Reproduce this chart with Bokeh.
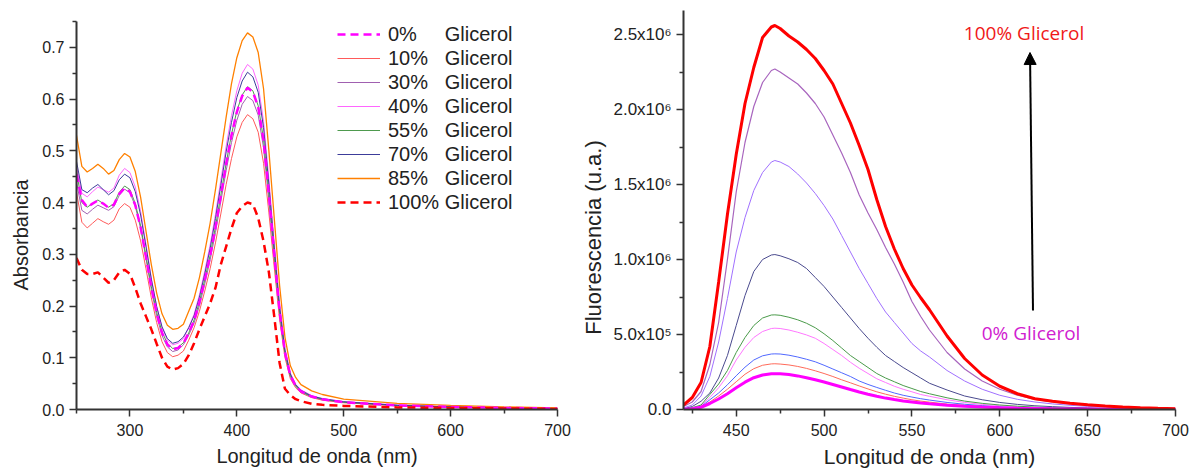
from bokeh.plotting import figure
from bokeh.layouts import row
from bokeh.models import Range1d, FixedTicker, Legend, LegendItem, Arrow, NormalHead, Label
from bokeh.embed import file_html
from bokeh.resources import INLINE

# ---------------- Absorbance data ----------------
WL_ABS = [250, 255, 260, 265, 270, 275, 280, 285, 290, 295, 300, 305, 310, 315, 320, 325, 330, 335, 340,
          345, 350, 355, 360, 365, 370, 375, 380, 385, 390, 395, 400, 405, 410, 415, 420, 425, 430, 435,
          440, 445, 450, 455, 460, 470, 480, 500, 550, 600, 650, 700]

ABS_0 = [0.455, 0.405, 0.391, 0.398, 0.404, 0.398, 0.390, 0.396, 0.417, 0.428, 0.421, 0.395, 0.352, 0.295, 0.236, 0.186, 0.148, 0.126, 0.116,
         0.119, 0.128, 0.148, 0.172, 0.207, 0.250, 0.297, 0.352, 0.413, 0.475, 0.530, 0.575, 0.606, 0.622, 0.614, 0.585, 0.520, 0.415, 0.300,
         0.190, 0.110, 0.066, 0.046, 0.035, 0.025, 0.020, 0.014, 0.008, 0.005, 0.003, 0.002]
ABS_10 = [0.420, 0.362, 0.351, 0.360, 0.369, 0.363, 0.358, 0.366, 0.388, 0.398, 0.391, 0.366, 0.326, 0.272, 0.216, 0.168, 0.131, 0.110, 0.102,
          0.105, 0.113, 0.134, 0.158, 0.190, 0.229, 0.272, 0.322, 0.378, 0.435, 0.485, 0.527, 0.555, 0.570, 0.562, 0.536, 0.476, 0.380, 0.275,
          0.174, 0.101, 0.060, 0.042, 0.032, 0.023, 0.018, 0.013, 0.007, 0.005, 0.003, 0.002]
ABS_30 = [0.440, 0.385, 0.378, 0.387, 0.395, 0.390, 0.385, 0.392, 0.414, 0.426, 0.419, 0.393, 0.350, 0.292, 0.232, 0.181, 0.143, 0.121, 0.112,
          0.115, 0.125, 0.144, 0.167, 0.201, 0.243, 0.289, 0.342, 0.402, 0.462, 0.516, 0.559, 0.590, 0.605, 0.597, 0.569, 0.506, 0.404, 0.292,
          0.185, 0.107, 0.064, 0.045, 0.034, 0.024, 0.019, 0.014, 0.008, 0.005, 0.003, 0.002]
ABS_40 = [0.470, 0.418, 0.411, 0.421, 0.430, 0.425, 0.420, 0.428, 0.453, 0.466, 0.458, 0.430, 0.383, 0.320, 0.254, 0.199, 0.158, 0.134, 0.125,
          0.128, 0.137, 0.159, 0.184, 0.222, 0.268, 0.318, 0.377, 0.443, 0.509, 0.568, 0.616, 0.650, 0.667, 0.658, 0.627, 0.557, 0.445, 0.322,
          0.204, 0.118, 0.071, 0.049, 0.038, 0.027, 0.021, 0.015, 0.009, 0.005, 0.003, 0.002]
ABS_55 = [0.460, 0.400, 0.391, 0.398, 0.405, 0.398, 0.391, 0.398, 0.420, 0.432, 0.425, 0.398, 0.355, 0.297, 0.238, 0.188, 0.150, 0.128, 0.118,
          0.120, 0.129, 0.148, 0.173, 0.208, 0.251, 0.298, 0.353, 0.414, 0.476, 0.532, 0.577, 0.608, 0.624, 0.616, 0.587, 0.522, 0.416, 0.301,
          0.191, 0.110, 0.066, 0.046, 0.035, 0.025, 0.020, 0.014, 0.008, 0.005, 0.003, 0.002]
ABS_70 = [0.480, 0.425, 0.419, 0.428, 0.435, 0.425, 0.415, 0.423, 0.444, 0.455, 0.448, 0.421, 0.376, 0.315, 0.252, 0.199, 0.160, 0.137, 0.128,
          0.131, 0.140, 0.158, 0.181, 0.217, 0.262, 0.311, 0.369, 0.433, 0.498, 0.555, 0.603, 0.635, 0.652, 0.643, 0.613, 0.545, 0.435, 0.314,
          0.199, 0.115, 0.069, 0.048, 0.037, 0.026, 0.021, 0.015, 0.008, 0.005, 0.003, 0.002]
ABS_85 = [0.530, 0.470, 0.459, 0.466, 0.474, 0.466, 0.455, 0.462, 0.483, 0.495, 0.488, 0.460, 0.410, 0.345, 0.280, 0.225, 0.185, 0.163, 0.155,
          0.157, 0.165, 0.190, 0.215, 0.255, 0.305, 0.360, 0.425, 0.495, 0.565, 0.630, 0.680, 0.713, 0.728, 0.720, 0.690, 0.620, 0.500, 0.370,
          0.240, 0.140, 0.085, 0.062, 0.048, 0.036, 0.029, 0.020, 0.012, 0.008, 0.005, 0.003]
ABS_100 = [0.293, 0.270, 0.262, 0.262, 0.265, 0.255, 0.245, 0.250, 0.265, 0.270, 0.262, 0.235, 0.205, 0.180, 0.155, 0.127, 0.100, 0.083, 0.077,
           0.080, 0.088, 0.105, 0.128, 0.155, 0.180, 0.205, 0.235, 0.280, 0.315, 0.350, 0.380, 0.393, 0.400, 0.397, 0.370, 0.325, 0.265, 0.180,
           0.090, 0.040, 0.028, 0.020, 0.016, 0.011, 0.009, 0.007, 0.004, 0.003, 0.002, 0.001]

ABS_LABELS = ["0%\u2007\u2007 Glicerol", "10%\u2007 Glicerol", "30%\u2007 Glicerol", "40%\u2007 Glicerol",
              "55%\u2007 Glicerol", "70%\u2007 Glicerol", "85%\u2007 Glicerol", "100% Glicerol"]

ABS_X_TICKS = [300, 400, 500, 600, 700]
ABS_X_MINOR = [250, 350, 450, 550, 650]
ABS_Y_TICKS = [0.0, 0.1, 0.2, 0.3, 0.4, 0.5, 0.6, 0.7]
ABS_Y_MINOR = [0.05, 0.15, 0.25, 0.35, 0.45, 0.55, 0.65, 0.75]

# ---------------- Fluorescence data (x10^6 u.a.) ----------------
WL_FL = [420, 425, 430, 435, 440, 445, 450, 455, 460, 465, 470, 472, 475, 480, 485, 490, 495, 500, 505, 510,
         515, 520, 525, 530, 535, 540, 545, 550, 555, 560, 570, 580, 590, 600, 610, 620, 630, 640, 650, 660,
         670, 680, 690, 700]

FL_RED = [0.03, 0.08, 0.18, 0.42, 0.85, 1.30, 1.70, 2.04, 2.28, 2.48, 2.55, 2.56, 2.54, 2.49, 2.45, 2.40, 2.34, 2.26, 2.17, 2.04,
          1.91, 1.76, 1.60, 1.40, 1.22, 1.07, 0.94, 0.83, 0.745, 0.665, 0.49, 0.34, 0.23, 0.155, 0.105, 0.072, 0.055, 0.042, 0.031, 0.023,
          0.017, 0.012, 0.008, 0.005]
FL_PURPLE = [0.02, 0.05, 0.12, 0.30, 0.58, 1.00, 1.45, 1.78, 2.02, 2.18, 2.26, 2.27, 2.25, 2.21, 2.17, 2.11, 2.04, 1.95, 1.83, 1.71,
             1.58, 1.43, 1.31, 1.20, 1.08, 0.97, 0.85, 0.72, 0.62, 0.53, 0.38, 0.27, 0.19, 0.135, 0.095, 0.068, 0.05, 0.037, 0.028, 0.02,
             0.015, 0.01, 0.007, 0.004]
FL_LILAC = [0.01, 0.03, 0.09, 0.22, 0.45, 0.74, 1.05, 1.28, 1.46, 1.58, 1.65, 1.66, 1.65, 1.62, 1.57, 1.51, 1.44, 1.36, 1.27, 1.16,
            1.05, 0.94, 0.84, 0.74, 0.65, 0.58, 0.51, 0.44, 0.39, 0.35, 0.26, 0.19, 0.135, 0.095, 0.068, 0.05, 0.037, 0.028, 0.021, 0.016,
            0.012, 0.008, 0.006, 0.004]
FL_NAVY = [0.005, 0.02, 0.055, 0.11, 0.21, 0.36, 0.56, 0.76, 0.92, 1.00, 1.03, 1.033, 1.025, 1.005, 0.98, 0.94, 0.88, 0.82, 0.75, 0.68,
           0.61, 0.54, 0.475, 0.415, 0.36, 0.32, 0.28, 0.245, 0.21, 0.175, 0.13, 0.09, 0.065, 0.047, 0.034, 0.025, 0.019, 0.014, 0.011, 0.008,
           0.006, 0.005, 0.004, 0.003]
FL_GREEN = [0.003, 0.012, 0.03, 0.10, 0.17, 0.26, 0.38, 0.48, 0.56, 0.61, 0.63, 0.631, 0.628, 0.615, 0.598, 0.575, 0.545, 0.505, 0.46, 0.41,
            0.36, 0.32, 0.28, 0.24, 0.21, 0.185, 0.16, 0.14, 0.12, 0.105, 0.078, 0.056, 0.041, 0.03, 0.022, 0.016, 0.012, 0.009, 0.007, 0.005,
            0.004, 0.003, 0.002, 0.002]
FL_PINK = [0.002, 0.01, 0.025, 0.08, 0.145, 0.225, 0.33, 0.415, 0.48, 0.52, 0.54, 0.542, 0.54, 0.53, 0.515, 0.497, 0.475, 0.44, 0.40, 0.36,
           0.315, 0.275, 0.24, 0.205, 0.18, 0.155, 0.135, 0.118, 0.10, 0.088, 0.065, 0.047, 0.034, 0.025, 0.018, 0.013, 0.01, 0.008, 0.006, 0.004,
           0.003, 0.002, 0.002, 0.001]
FL_BLUE = [0.002, 0.008, 0.02, 0.065, 0.11, 0.165, 0.225, 0.282, 0.33, 0.358, 0.37, 0.371, 0.37, 0.362, 0.35, 0.335, 0.318, 0.295, 0.27, 0.245,
           0.22, 0.19, 0.167, 0.147, 0.128, 0.11, 0.095, 0.083, 0.072, 0.063, 0.047, 0.035, 0.026, 0.019, 0.014, 0.01, 0.008, 0.006, 0.004, 0.003,
           0.002, 0.002, 0.001, 0.001]
FL_SALMON = [0.001, 0.006, 0.018, 0.05, 0.09, 0.135, 0.185, 0.235, 0.272, 0.295, 0.304, 0.305, 0.303, 0.297, 0.287, 0.274, 0.258, 0.24, 0.22, 0.198,
             0.178, 0.157, 0.137, 0.118, 0.102, 0.088, 0.076, 0.065, 0.056, 0.049, 0.036, 0.027, 0.02, 0.015, 0.011, 0.008, 0.006, 0.004, 0.003, 0.002,
             0.002, 0.001, 0.001, 0.001]
FL_MAGENTA = [0.001, 0.005, 0.015, 0.04, 0.07, 0.105, 0.145, 0.182, 0.212, 0.23, 0.238, 0.239, 0.238, 0.233, 0.224, 0.212, 0.198, 0.183, 0.167, 0.15,
              0.133, 0.117, 0.102, 0.088, 0.076, 0.066, 0.057, 0.05, 0.043, 0.038, 0.029, 0.022, 0.016, 0.012, 0.009, 0.007, 0.005, 0.004, 0.003, 0.002,
              0.002, 0.001, 0.001, 0.001]

FL_X_TICKS = [450, 500, 550, 600, 650, 700]
FL_X_MINOR = [425, 475, 525, 575, 625, 675]
FL_Y_TICKS = [0.0, 0.5, 1.0, 1.5, 2.0, 2.5]
FL_Y_MINOR = [0.25, 0.75, 1.25, 1.75, 2.25]
FL_Y_LABELS = ["0.0", "5.0x10\u2075", "1.0x10\u2076", "1.5x10\u2076", "2.0x10\u2076", "2.5x10\u2076"]

ANNOT_TOP = "100% Glicerol"
ANNOT_BOTTOM = "0% Glicerol"

FONT = "Liberation Sans"
AXIS_COLOR = "#333333"
NB = "\u00a0"


def style_axes(p):
    for ax in (p.xaxis[0], p.yaxis[0]):
        ax.axis_line_color = AXIS_COLOR
        ax.axis_line_width = 2
        ax.major_tick_line_color = AXIS_COLOR
        ax.major_tick_line_width = 1.5
        ax.minor_tick_line_color = AXIS_COLOR
        ax.minor_tick_line_width = 1.5
        ax.major_tick_in = 0
        ax.major_tick_out = 7
        ax.minor_tick_in = 0
        ax.minor_tick_out = 4
        ax.major_label_text_font = FONT
        ax.major_label_text_font_size = "16px"
        ax.major_label_text_color = "#222222"
        ax.axis_label_text_font = FONT
        ax.axis_label_text_font_size = "20px"
        ax.axis_label_text_font_style = "normal"
        ax.axis_label_text_color = "#222222"
        ax.major_label_standoff = 5
    p.xaxis.major_label_standoff = 7
    p.xaxis.axis_label_standoff = 6
    p.yaxis.axis_label_standoff = 7
    p.xgrid.visible = False
    p.ygrid.visible = False
    p.outline_line_color = None


# ---------------- Left: absorbance ----------------
p1 = figure(width=578, height=471, output_backend="svg", toolbar_location=None, title_location=None,
            x_range=Range1d(250, 700), y_range=Range1d(0, 0.75),
            min_border_left=76, min_border_right=21, min_border_top=21, min_border_bottom=62)
style_axes(p1)
p1.xaxis.ticker = FixedTicker(ticks=ABS_X_TICKS, minor_ticks=ABS_X_MINOR)
p1.yaxis.ticker = FixedTicker(ticks=ABS_Y_TICKS, minor_ticks=ABS_Y_MINOR)
p1.yaxis.major_label_overrides = {v: f"{v:.1f}" for v in ABS_Y_TICKS}
p1.xaxis.axis_label = "Longitud de onda (nm)"
p1.yaxis.axis_label = "Absorbancia" + NB * 7

abs_series = [
    (ABS_10, "#FF5A5A", 1.0, "solid"),
    (ABS_30, "#A060B0", 1.0, "solid"),
    (ABS_40, "#FF66FF", 1.0, "solid"),
    (ABS_55, "#4E9A4E", 1.0, "solid"),
    (ABS_70, "#3C3C9A", 1.0, "solid"),
    (ABS_85, "#FF8000", 1.3, "solid"),
    (ABS_0, "#FF00FF", 2.5, "8 5"),
    (ABS_100, "#FF0000", 2.5, "8 5"),
]
rends = {}
for ys, col, lw, dash in abs_series:
    rends[id(ys)] = p1.line(WL_ABS, ys, line_color=col, line_width=lw, line_dash=dash)

order = [ABS_0, ABS_10, ABS_30, ABS_40, ABS_55, ABS_70, ABS_85, ABS_100]
items = [LegendItem(label=lab, renderers=[rends[id(ys)]]) for lab, ys in zip(ABS_LABELS, order)]
legend = Legend(items=items, location=(261, 195.5), label_text_font=FONT, label_text_font_size="20px",
                label_text_color="#222222", glyph_width=43, glyph_height=22, label_height=22,
                label_standoff=8, spacing=1, padding=0, margin=0,
                border_line_alpha=0, background_fill_alpha=0)
p1.add_layout(legend)

# ---------------- Right: fluorescence ----------------
p2 = figure(width=612, height=471, output_backend="svg", toolbar_location=None, title_location=None,
            x_range=Range1d(420, 700), y_range=Range1d(0, 2.66),
            min_border_left=96, min_border_right=15, min_border_top=10, min_border_bottom=62)
style_axes(p2)

# let each plot keep its own frame position (the reference frames do not share a top edge)
n_pad = 9
try:
    p1.frame_align = False
    p2.frame_align = False
except AttributeError:
    p2.min_border_top = 21
    p2.y_range.end = 2.587
    n_pad = 7

p2.yaxis.major_label_text_font_size = "17px"
p2.yaxis.axis_label_text_font_size = "22px"
p2.yaxis.axis_label_standoff = 4
p2.xaxis.axis_label_text_font_size = "21px"
p2.xaxis.ticker = FixedTicker(ticks=FL_X_TICKS, minor_ticks=FL_X_MINOR)
p2.yaxis.ticker = FixedTicker(ticks=FL_Y_TICKS, minor_ticks=FL_Y_MINOR)
p2.yaxis.major_label_overrides = dict(zip(FL_Y_TICKS, FL_Y_LABELS))
p2.xaxis.axis_label = "Longitud de onda (nm)"
p2.yaxis.axis_label = "Fluorescencia (u.a.)" + NB * n_pad

fl_series = [
    (FL_SALMON, "#FF6A5A", 1.0),
    (FL_BLUE, "#5068FF", 1.0),
    (FL_PINK, "#FF77FF", 1.0),
    (FL_GREEN, "#4A9A4A", 1.0),
    (FL_NAVY, "#4A4A8E", 1.0),
    (FL_LILAC, "#A070FF", 1.0),
    (FL_PURPLE, "#A865BE", 1.2),
    (FL_MAGENTA, "#FF00FF", 3.0),
    (FL_RED, "#FF0000", 3.0),
]
for ys, col, lw in fl_series:
    p2.line(WL_FL, ys, line_color=col, line_width=lw)

ARROW_X0, ARROW_Y0 = 618.9, 0.66
ARROW_X1, ARROW_Y1 = 617.2, 2.38
p2.add_layout(Arrow(end=NormalHead(size=12, fill_color="black", line_color="black"),
                    x_start=ARROW_X0, y_start=ARROW_Y0, x_end=ARROW_X1, y_end=ARROW_Y1,
                    line_color="black", line_width=2))
p2.add_layout(Label(x=613.8, y=2.51, text=ANNOT_TOP, text_color="#F01818", text_font="Open Sans",
                    text_font_size="19px", text_align="center", text_baseline="middle"))
p2.add_layout(Label(x=617.8, y=0.513, text=ANNOT_BOTTOM, text_color="#D020D0", text_font="Open Sans",
                    text_font_size="19px", text_align="center", text_baseline="middle"))

layout = row(p1, p2)
open("out.html", "w").write(file_html(layout, INLINE))
